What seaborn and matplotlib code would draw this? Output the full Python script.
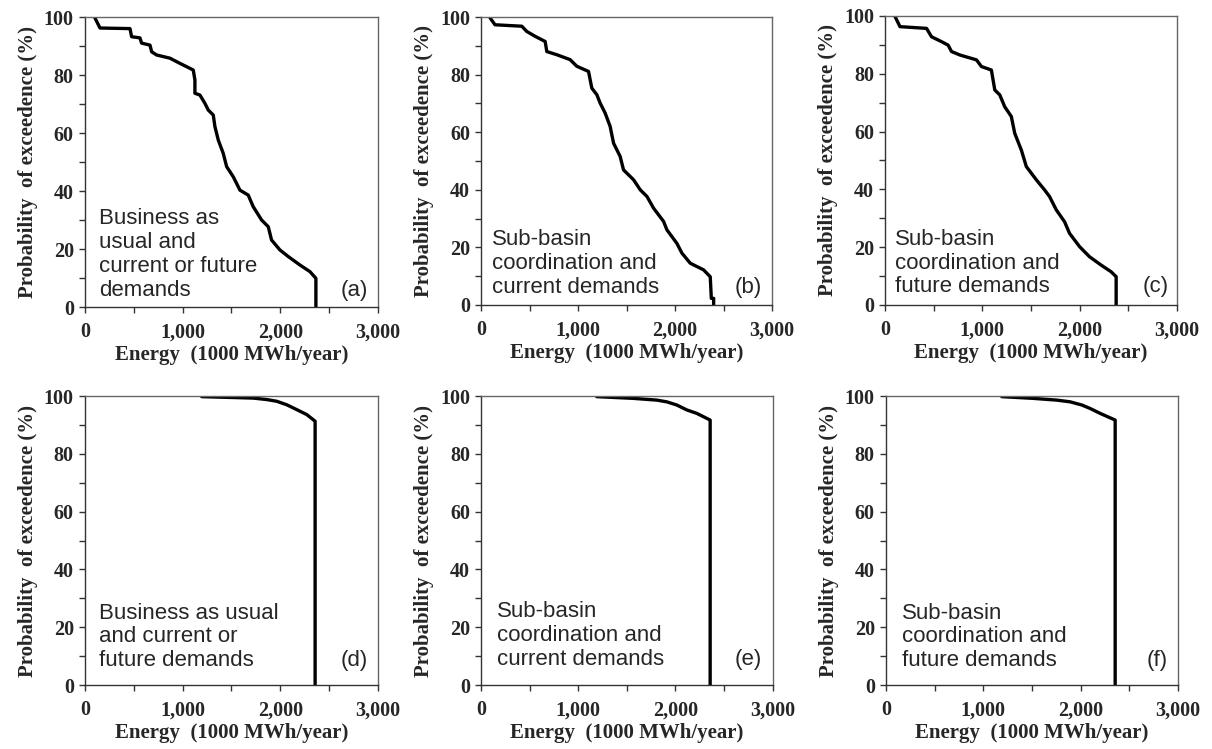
import numpy as np
import pandas as pd
import matplotlib
matplotlib.use("Agg")
import matplotlib.pyplot as plt
from matplotlib.ticker import MultipleLocator, FuncFormatter
import seaborn as sns

# Exceedance curves: energy (1000 MWh/year) vs probability of exceedence (%)
energy_a = [102, 154, 461, 478, 563, 580, 666, 683, 734, 870, 973, 1075, 1109, 1126, 1126,
            1177, 1229, 1263, 1314, 1331, 1365, 1416, 1451, 1519, 1587, 1672, 1723, 1809,
            1877, 1911, 1996, 2082, 2201, 2304, 2365, 2365]
prob_a = [99.7, 96.2, 96.0, 93.2, 92.8, 91.0, 90.3, 88.0, 86.9, 85.8, 84.0, 82.3, 81.7, 78.3,
          73.7, 73.1, 70.2, 67.9, 66.2, 62.2, 57.6, 53.0, 48.4, 44.9, 40.3, 38.6, 34.6, 30.0,
          27.7, 23.1, 19.7, 17.4, 14.5, 12.2, 9.9, 0.0]

energy_b = [93, 144, 420, 471, 557, 661, 678, 781, 918, 987, 1108, 1142, 1194, 1228, 1280,
            1331, 1366, 1434, 1469, 1572, 1641, 1710, 1779, 1882, 1916, 2019, 2071, 2157,
            2294, 2363, 2374, 2398, 2398]
prob_b = [99.7, 97.3, 96.8, 95.0, 93.3, 91.5, 88.0, 86.9, 85.2, 82.9, 81.1, 75.3, 73.0, 70.1,
          66.6, 62.0, 56.2, 51.6, 46.9, 43.5, 40.0, 37.7, 33.6, 29.0, 26.1, 21.4, 18.0, 14.5,
          12.2, 9.8, 2.3, 2.3, 0.0]

energy_c = [103, 154, 427, 478, 581, 649, 683, 769, 940, 991, 1093, 1128, 1179, 1230, 1298,
            1333, 1401, 1452, 1555, 1640, 1691, 1760, 1845, 1896, 1999, 2101, 2221, 2323,
            2375, 2375]
prob_c = [99.8, 96.3, 95.7, 92.8, 91.1, 89.9, 87.7, 86.5, 84.8, 82.5, 81.3, 74.4, 72.7, 68.6,
          65.2, 59.4, 53.6, 47.9, 43.3, 39.8, 37.5, 32.9, 28.8, 24.8, 20.2, 16.7, 13.8, 11.5,
          9.8, 0.0]

energy_d = [1196, 1519, 1724, 1861, 1964, 2066, 2169, 2271, 2357, 2357]
prob_d = [99.8, 99.5, 99.3, 98.8, 98.2, 97.0, 95.3, 93.6, 91.3, 0.0]

energy_e = [1191, 1569, 1809, 1912, 2015, 2118, 2221, 2358, 2358]
prob_e = [99.8, 99.2, 98.6, 98.0, 96.9, 95.2, 94.0, 91.7, 0.0]

energy_f = [1190, 1515, 1755, 1893, 2013, 2098, 2201, 2355, 2355]
prob_f = [99.8, 99.2, 98.6, 98.0, 96.9, 95.7, 94.0, 91.7, 0.0]

scenario_text = [
    "Business as\nusual and\ncurrent or future\ndemands",
    "Sub-basin\ncoordination and\ncurrent demands",
    "Sub-basin\ncoordination and\nfuture demands",
    "Business as usual\nand current or\nfuture demands",
    "Sub-basin\ncoordination and\ncurrent demands",
    "Sub-basin\ncoordination and\nfuture demands",
]
panel_tags = ["(a)", "(b)", "(c)", "(d)", "(e)", "(f)"]

x_label = "Energy  (1000 MWh/year)"
y_label = "Probability  of exceedence (%)"

series = [(energy_a, prob_a), (energy_b, prob_b), (energy_c, prob_c),
          (energy_d, prob_d), (energy_e, prob_e), (energy_f, prob_f)]

sns.set_style("ticks")

fig = plt.figure(figsize=(12.12, 7.49), dpi=100)

# [left, bottom, width, height] of each panel
boxes = [
    [0.0701, 0.5901, 0.2417, 0.3872],
    [0.3969, 0.5928, 0.2401, 0.3845],
    [0.7302, 0.5928, 0.2409, 0.3859],
    [0.0701, 0.0854, 0.2417, 0.3858],
    [0.3969, 0.0854, 0.2405, 0.3858],
    [0.7310, 0.0854, 0.2409, 0.3858],
]
text_pos = [(140, 2.2), (115, 2.6), (100, 2.6), (140, 4.8), (165, 5.3), (165, 4.8)]
tag_x = [2898, 2894, 2918, 2897, 2894, 2897]

serif_bold = dict(family="Liberation Serif", weight="bold")

for i, (box, (en, pr)) in enumerate(zip(boxes, series)):
    ax = fig.add_axes(box)
    df = pd.DataFrame({"energy": en, "prob": pr})
    sns.lineplot(data=df, x="energy", y="prob", ax=ax, sort=False,
                 color="black", linewidth=2.4, estimator=None)
    ax.set_xlim(0, 3000)
    ax.set_ylim(0, 100)
    ax.xaxis.set_major_locator(MultipleLocator(1000))
    ax.xaxis.set_minor_locator(MultipleLocator(500))
    ax.yaxis.set_major_locator(MultipleLocator(20))
    ax.yaxis.set_minor_locator(MultipleLocator(10))
    ax.xaxis.set_major_formatter(FuncFormatter(lambda v, p: f"{int(v):,}"))
    ax.tick_params(which="both", direction="out", length=4, width=1, color="#333333")
    ax.tick_params(axis="x", which="major", pad=7)
    ax.tick_params(axis="y", which="major", pad=4)
    for lab in ax.get_xticklabels() + ax.get_yticklabels():
        lab.set_fontfamily("Liberation Serif")
        lab.set_fontweight("bold")
        lab.set_fontsize(14.5)
    for side, sp in ax.spines.items():
        sp.set_visible(True)
        sp.set_color("#333333" if side in ("left", "bottom") else "#666666")
        sp.set_linewidth(1.0)
    ax.set_xlabel(x_label, fontsize=15, labelpad=2, **serif_bold)
    ax.set_ylabel(y_label, fontsize=15, labelpad=4, **serif_bold)
    tx, ty = text_pos[i]
    ax.text(tx, ty, scenario_text[i], family="Liberation Sans", fontsize=16,
            ha="left", va="bottom", linespacing=1.17)
    ax.text(tag_x[i], ty, panel_tags[i], family="Liberation Sans", fontsize=16,
            ha="right", va="bottom")

fig.savefig("out.png", dpi=100)
